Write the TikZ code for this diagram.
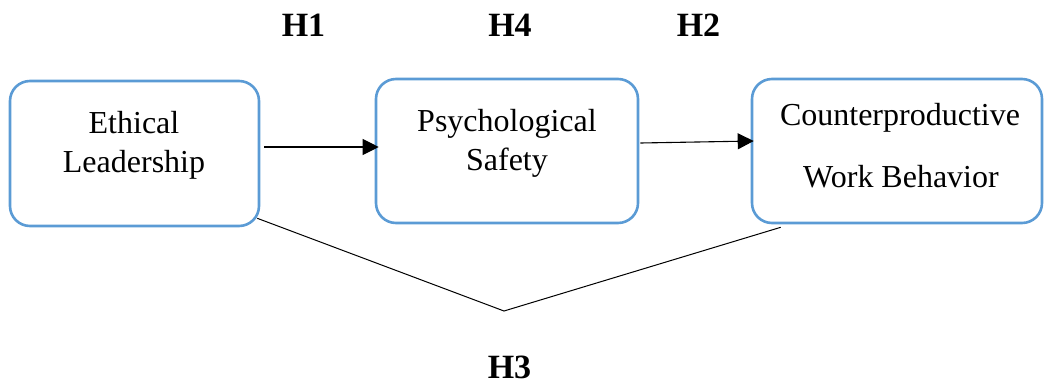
\documentclass[tikz,border=0pt]{standalone}
\usepackage{fontspec}
\setmainfont{Liberation Serif}
\usetikzlibrary{arrows.meta}
\definecolor{boxblue}{RGB}{91,155,213}
\begin{document}
\begin{tikzpicture}[x=1pt,y=-1pt,
  box/.style={draw=boxblue, line width=2.6pt, rounded corners=20pt, inner sep=0pt},
  lbl/.style={font=\fontsize{32}{38}\selectfont, inner sep=0pt, anchor=base},
  hyp/.style={font=\fontsize{34}{40}\selectfont\bfseries, inner sep=0pt, anchor=base},
  arr/.style={line width=1.1pt, -{Triangle[length=16pt,width=16pt]}},
  link/.style={line width=1pt}]
\useasboundingbox (0,0) rectangle (1044,389);
% boxes
\node[box, minimum width=249pt, minimum height=145pt] (el) at (134.5,153.5) {};
\node[box, minimum width=262pt, minimum height=144pt] (ps) at (507,151) {};
\node[box, minimum width=290pt, minimum height=144pt] (cw) at (897,151) {};
% box texts
\node[lbl] (el1) at (134,133) {Ethical};
\node[lbl] (el2) at (134,172) {Leadership};
\node[lbl] (ps1) at (507,131) {Psychological};
\node[lbl] (ps2) at (507,170) {Safety};
\node[lbl] (cw1) at (900,125) {Counterproductive};
\node[lbl] (cw2) at (901,187) {Work Behavior};
% hypotheses
\node[hyp] (h1) at (303.5,36) {H1};
\node[hyp] (h4) at (510,36) {H4};
\node[hyp] (h2) at (698.5,36) {H2};
\node[hyp] (h3) at (509.5,378) {H3};
% arrows
\draw[arr] ([shift={(4pt,6.5pt)}]el.east) -- ([shift={(4pt,4pt)}]ps.west);
\draw[arr] ([shift={(1pt,8pt)}]ps.east) -- ([shift={(3pt,10pt)}]cw.west);
% lower link
\coordinate (v) at (504,311);
\draw[link] ([shift={(-3pt,9pt)}]el.south east) -- (v) -- ([shift={(30pt,-3pt)}]cw.south west);
\end{tikzpicture}
\end{document}
